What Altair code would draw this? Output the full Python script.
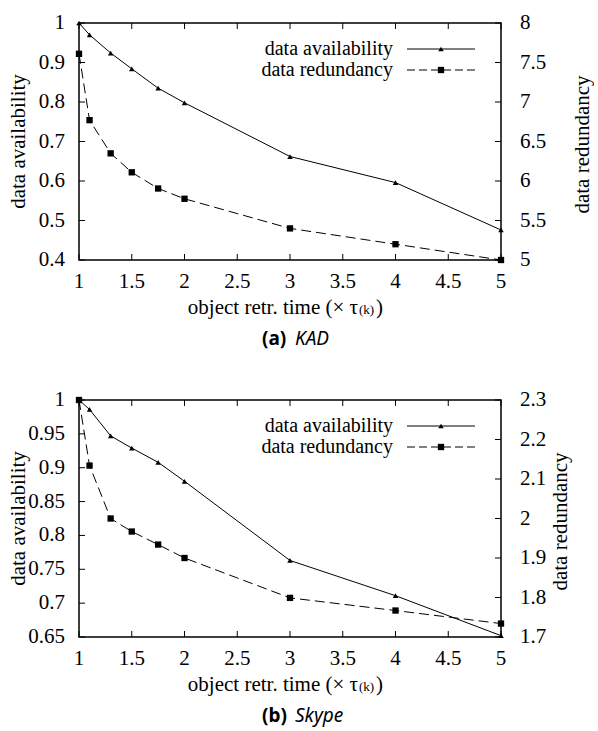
import altair as alt
import pandas as pd

# ---- data ----
x_vals = [1, 1.1, 1.3, 1.5, 1.75, 2, 3, 4, 5]
kad_avail = [1.0, 0.970, 0.924, 0.884, 0.835, 0.798, 0.662, 0.596, 0.476]
kad_red = [7.61, 6.77, 6.35, 6.11, 5.905, 5.775, 5.40, 5.20, 5.00]
skype_avail = [1.0, 0.986, 0.947, 0.929, 0.908, 0.880, 0.763, 0.711, 0.652]
skype_red = [2.30, 2.134, 2.00, 1.967, 1.934, 1.90, 1.799, 1.767, 1.734]

x_ticks = [1, 1.5, 2, 2.5, 3, 3.5, 4, 4.5, 5]
kad_left_ticks = [0.4, 0.5, 0.6, 0.7, 0.8, 0.9, 1]
kad_right_ticks = [5, 5.5, 6, 6.5, 7, 7.5, 8]
skype_left_ticks = [0.65, 0.7, 0.75, 0.8, 0.85, 0.9, 0.95, 1]
skype_right_ticks = [1.7, 1.8, 1.9, 2, 2.1, 2.2, 2.3]

legend_labels = ["data availability", "data redundancy"]
y_left_title = "data availability"
y_right_title = "data redundancy"
x_title_main = "object retr. time (× τ"
x_title_sub = "(k)"
x_title_end = ")"

W, H = 422, 237
SERIF = "Liberation Serif"
SANS = "Noto Sans"
FS = 21


def one(**kw):
    return pd.DataFrame({k: [v] for k, v in kw.items()})


def txt(text, x, y, **kw):
    opts = dict(font=SERIF, fontSize=FS, color="black")
    opts.update(kw)
    return alt.Chart(one(a=0)).mark_text(text=text, **opts).encode(x=alt.value(x), y=alt.value(y))


def panel(avail, red, yl_dom, yl_ticks, yr_dom, yr_ticks, r_title_x, cap_a, cap_b):
    df = pd.DataFrame({"x": x_vals, "avail": avail, "red": red})
    xsc = alt.Scale(domain=[1, 5], nice=False, zero=False)
    ylsc = alt.Scale(domain=yl_dom, nice=False, zero=False)
    yrsc = alt.Scale(domain=yr_dom, nice=False, zero=False)

    def X(f):
        return alt.X(f"{f}:Q", scale=xsc, axis=None)

    def YL(f):
        return alt.Y(f"{f}:Q", scale=ylsc, axis=None)

    def YR(f):
        return alt.Y(f"{f}:Q", scale=yrsc, axis=None)

    xt_df = pd.DataFrame({"x": x_ticks})
    yl_df = pd.DataFrame({"v": yl_ticks})
    yr_df = pd.DataFrame({"v": yr_ticks})

    # --- availability series (left scale) ---
    line_a = alt.Chart(df).mark_line(color="black", strokeWidth=1).encode(x=X("x"), y=YL("avail"))
    pts_a = alt.Chart(df).mark_point(shape="triangle-up", filled=True, size=30, color="black",
                                     opacity=1).encode(x=X("x"), y=YL("avail"))
    lt = alt.Chart(yl_df).mark_rule(color="black", strokeWidth=1).encode(
        y=YL("v"), x=alt.value(0), x2=alt.value(6))
    ll = alt.Chart(yl_df).mark_text(font=SERIF, fontSize=FS, color="black", align="right",
                                    baseline="middle").encode(
        y=YL("v"), x=alt.value(-14), text=alt.Text("v:Q", format="~g"))
    xb = alt.Chart(xt_df).mark_rule(color="black", strokeWidth=1).encode(
        x=X("x"), y=alt.value(H), y2=alt.value(H - 6))
    xtop = alt.Chart(xt_df).mark_rule(color="black", strokeWidth=1).encode(
        x=X("x"), y=alt.value(0), y2=alt.value(6))
    xl = alt.Chart(xt_df).mark_text(font=SERIF, fontSize=FS, color="black", align="center",
                                    baseline="top").encode(
        x=X("x"), y=alt.value(H + 11), text=alt.Text("x:Q", format="~g"))
    A = alt.layer(line_a, pts_a, lt, ll, xb, xtop, xl)

    # --- redundancy series (right scale) ---
    line_r = alt.Chart(df).mark_line(color="black", strokeWidth=1, strokeDash=[10, 5]).encode(
        x=X("x"), y=YR("red"))
    pts_r = alt.Chart(df).mark_point(shape="square", filled=True, size=40, color="black",
                                     opacity=1).encode(x=X("x"), y=YR("red"))
    rt = alt.Chart(yr_df).mark_rule(color="black", strokeWidth=1).encode(
        y=YR("v"), x=alt.value(W - 6), x2=alt.value(W))
    rl = alt.Chart(yr_df).mark_text(font=SERIF, fontSize=FS, color="black", align="left",
                                    baseline="middle").encode(
        y=YR("v"), x=alt.value(W + 19), text=alt.Text("v:Q", format="~g"))
    B = alt.layer(line_r, pts_r, rt, rl)

    base1 = alt.Chart(one(a=0))
    deco = [
        # axis titles
        txt(y_left_title, -60, H / 2, angle=270, align="center", baseline="middle"),
        txt(y_right_title, W + r_title_x, H / 2 + 3, angle=270, align="center", baseline="middle"),
        # legend
        txt(legend_labels[0], 314, 26, fontSize=20, align="right", baseline="middle"),
        txt(legend_labels[1], 314, 47, fontSize=20, align="right", baseline="middle"),
        base1.mark_rule(color="black", strokeWidth=1).encode(
            x=alt.value(328), x2=alt.value(396), y=alt.value(26)),
        base1.mark_rule(color="black", strokeWidth=1, strokeDash=[8, 4]).encode(
            x=alt.value(328), x2=alt.value(396), y=alt.value(47)),
        base1.mark_point(shape="triangle-up", filled=True, size=30, color="black", opacity=1).encode(
            x=alt.value(362), y=alt.value(26)),
        base1.mark_point(shape="square", filled=True, size=40, color="black", opacity=1).encode(
            x=alt.value(362), y=alt.value(47)),
        # x-axis title with small subscript
        txt(x_title_main, 279, H + 54, align="right", baseline="alphabetic"),
        txt(x_title_sub, 280, H + 54, fontSize=13, align="left", baseline="alphabetic"),
        txt(x_title_end, 297, H + 54, align="left", baseline="alphabetic"),
        # caption
        txt(cap_a, 183, H + 85, font=SANS, fontSize=19, fontWeight="bold", align="left",
            baseline="alphabetic"),
        txt(cap_b, 216, H + 85, font=SANS, fontSize=19, fontStyle="italic", align="left",
            baseline="alphabetic"),
    ]

    return alt.layer(A, B, *deco).resolve_scale(y="independent").properties(width=W, height=H)


pa = panel(kad_avail, kad_red, [0.4, 1], kad_left_ticks, [5, 8], kad_right_ticks, 82, "(a)", "KAD")
pb = panel(skype_avail, skype_red, [0.65, 1], skype_left_ticks, [1.7, 2.3], skype_right_ticks, 60,
           "(b)", "Skype")

chart = alt.vconcat(pa, pb, spacing=38).properties(
    padding={"left": 7, "top": 11, "right": 0, "bottom": 0}
).configure(background="white", font=SERIF).configure_view(
    stroke="black", strokeWidth=1.5
)

chart.save("out.html", embed_options={"renderer": "svg", "actions": False})
